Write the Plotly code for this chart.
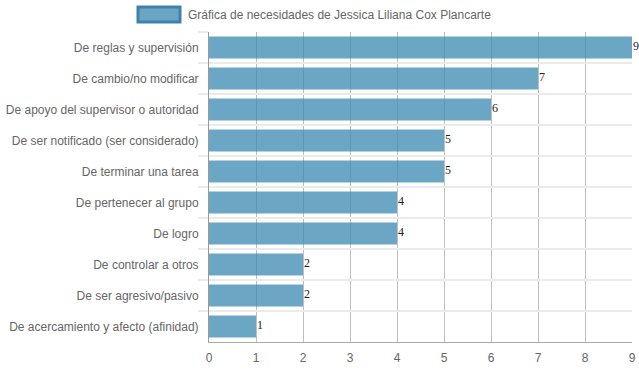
import plotly.graph_objects as go

categories = [
    "De reglas y supervisión",
    "De cambio/no modificar",
    "De apoyo del supervisor o autoridad",
    "De ser notificado (ser considerado)",
    "De terminar una tarea",
    "De pertenecer al grupo",
    "De logro",
    "De controlar a otros",
    "De ser agresivo/pasivo",
    "De acercamiento y afecto (afinidad)",
]
values = [9, 7, 6, 5, 5, 4, 4, 2, 2, 1]
series_name = "Gráfica de necesidades de Jessica Liliana Cox Plancarte"
x_ticks = list(range(0, 10))

W, H = 639, 372
ml, mr, mt, mb = 209, 7, 32, 30
pw, ph = W - ml - mr, H - mt - mb

fig = go.Figure()
fig.add_trace(go.Bar(
    y=categories, x=values, orientation="h",
    width=0.71,
    marker=dict(color="rgba(62,140,180,0.77)", line=dict(width=0)),
    showlegend=False, hoverinfo="x+y",
))

for c, v in zip(categories, values):
    fig.add_annotation(x=v, y=c, text=str(v), xref="x", yref="y",
                       xanchor="left", yanchor="middle", showarrow=False,
                       xshift=-1, yshift=2,
                       font=dict(family="Liberation Serif", size=12, color="#222"))

def px_x(p):
    return (p - ml) / pw

def px_y(p):
    return (H - mb - p) / ph

fig.add_shape(type="rect", xref="paper", yref="paper",
              x0=px_x(138), x1=px_x(180), y0=px_y(22), y1=px_y(7),
              fillcolor="#6aa6c4", line=dict(color="#3d82ab", width=3))
fig.add_annotation(text=series_name, xref="paper", yref="paper",
                   x=px_x(186), y=px_y(14.5), xanchor="left", yanchor="middle",
                   showarrow=False,
                   font=dict(family="Liberation Sans", size=12, color="#666"))

fig.update_layout(
    width=W, height=H,
    margin=dict(l=ml, r=mr, t=mt, b=mb, autoexpand=False),
    plot_bgcolor="white", paper_bgcolor="white",
    font=dict(family="Liberation Sans", size=12, color="#666"),
    xaxis=dict(range=[0, 9], tickvals=x_ticks, showgrid=True, automargin=False,
               gridcolor="rgba(0,0,0,0.25)", gridwidth=1,
               zeroline=False, showline=True, linecolor="#aaa", linewidth=1,
               ticks="", ticklabelstandoff=5,
               tickfont=dict(size=12, color="#666"), fixedrange=True),
    yaxis=dict(categoryorder="array", categoryarray=categories, automargin=False,
               autorange="reversed", tickson="boundaries",
               showgrid=True, gridcolor="#ebebeb", gridwidth=2,
               ticks="outside", ticklen=10, tickcolor="#ebebeb", tickwidth=2,
               ticklabelstandoff=7,
               showline=True, linecolor="#999", linewidth=1,
               zeroline=False, tickfont=dict(size=12, color="#666"), fixedrange=True),
)

fig.write_html("out.html", config={"displayModeBar": False},
               post_script="document.body.style.margin='0';document.body.style.padding='0';"
                           "document.documentElement.style.overflow='hidden';")
